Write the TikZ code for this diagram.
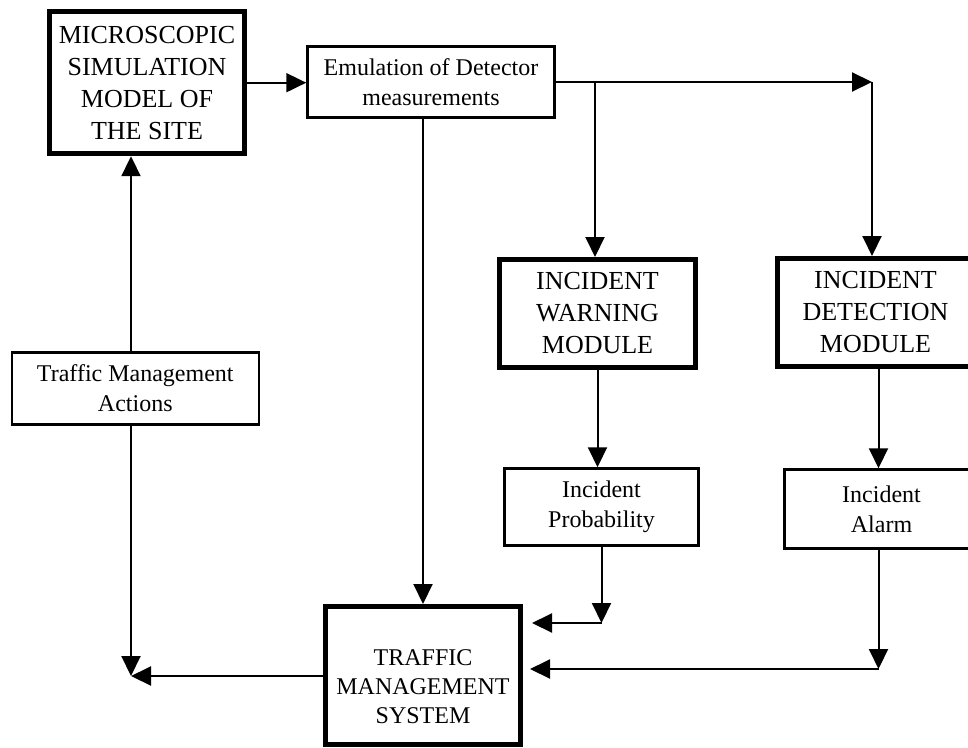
\documentclass[tikz,border=0pt]{standalone}
\usepackage{fontspec}
\setmainfont{Liberation Serif}
\usetikzlibrary{arrows.meta}

\begin{document}
\begin{tikzpicture}[x=1pt, y=-1pt, >={Triangle[length=20pt,width=19pt]},
  thickbox/.style={draw, rectangle, line width=5pt, inner sep=0pt, align=center, font=\fontsize{26}{32}\selectfont},
  thinbox/.style={draw, rectangle, line width=2.5pt, inner sep=0pt, align=center, font=\fontsize{24}{30}\selectfont},
  link/.style={line width=2pt}]
\useasboundingbox (0,0) rectangle (968,747);
\node[thickbox, minimum width=195pt, minimum height=142pt] (msm) at (147,82.7) {MICROSCOPIC\\SIMULATION\\MODEL OF\\THE SITE};
\node[thinbox, minimum width=247pt, minimum height=71pt] (emu) at (431,82) {Emulation of Detector\\measurements};
\node[thickbox, minimum width=196pt, minimum height=108pt] (warn) at (597.5,313.5) {INCIDENT\\WARNING\\MODULE};
\node[thickbox, minimum width=196pt, minimum height=108pt] (det) at (875.5,312.5) {INCIDENT\\DETECTION\\MODULE};
\node[thinbox, minimum width=247pt, minimum height=72pt] (tma) at (135.3,388.5) {Traffic Management\\Actions};
\node[thinbox, minimum width=194pt, minimum height=77pt] (prob) at (601.5,507) {Incident\\Probability};
\node[thinbox, minimum width=194pt, minimum height=79pt] (alarm) at (881.5,509) {Incident\\Alarm};
\node[thickbox, minimum width=195pt, minimum height=138pt, font=\fontsize{24}{29}\selectfont] (tms) at (423,675.5) {\rule{0pt}{38pt}TRAFFIC\\MANAGEMENT\\SYSTEM};
\coordinate (c1) at (872,82);
\coordinate (c2) at (595,82);
\coordinate (c3) at (601.5,623);
\coordinate (c4) at (878.5,669);
\coordinate (c5) at (131,676);
% top row
\draw[link, ->] (msm.east) -- (msm.east -| emu.west);
\draw[link, ->] (emu.east) -- (c1);
\draw[link, ->] (c1) -- (c1 |- det.north);
\draw[link, ->] (c2) -- (c2 |- warn.north);
\draw[link, ->] (tms.north |- emu.south) -- (tms.north);
% modules to outputs
\draw[link, ->] (warn.south) -- (warn.south |- prob.north);
\draw[link, ->] (c4 |- det.south) -- (c4 |- alarm.north);
\draw[link, ->] (prob.south) -- (c3);
\draw[link, ->, shorten >=9pt] (c3) -- (c3 -| tms.east);
\draw[link, ->] (c4 |- alarm.south) -- (c4);
\draw[link, ->, shorten >=7pt] (c4) -- (c4 -| tms.east);
% feedback loop
\draw[link, ->] (c5 -| tms.west) -- (c5);
\draw[link, ->] (c5 |- tma.south) -- (c5);
\draw[link, ->] (c5 |- tma.north) -- (c5 |- msm.south);
\end{tikzpicture}
\end{document}
